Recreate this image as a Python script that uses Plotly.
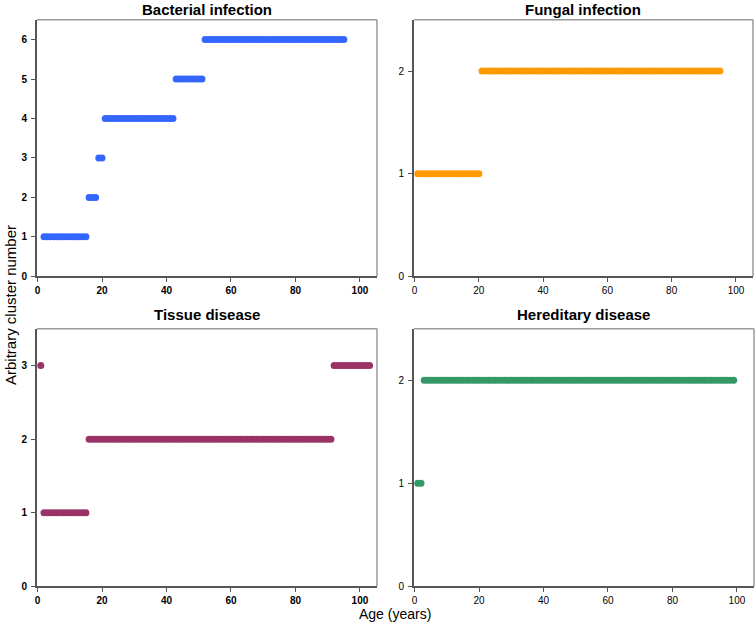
import plotly.graph_objects as go

# ---- data: segments of consecutive ages (years) sharing one cluster number ----
bact_start = [2, 16, 19, 21, 43, 52]
bact_end = [15, 18, 20, 42, 51, 95]
bact_cluster = [1, 2, 3, 4, 5, 6]

fung_start = [1, 21]
fung_end = [20, 95]
fung_cluster = [1, 2]

tiss_start = [1, 2, 16, 92]
tiss_end = [1, 15, 91, 103]
tiss_cluster = [3, 1, 2, 3]

hered_start = [1, 3]
hered_end = [2, 99]
hered_cluster = [1, 2]

titles = ["Bacterial infection", "Fungal infection", "Tissue disease", "Hereditary disease"]
x_ticks = [0, 20, 40, 60, 80, 100]


def expand(starts, ends, clusters):
    xs, ys = [], []
    for s, e, c in zip(starts, ends, clusters):
        for a in range(s, e + 1):
            xs.append(a)
            ys.append(c)
    return xs, ys


W, H = 756, 629
panels = [
    dict(data=expand(bact_start, bact_end, bact_cluster), color="#3366FF",
         px=(35, 376), py=(20, 279), ymax=6.5, yt=[0, 1, 2, 3, 4, 5, 6], bold=True, ty=0),
    dict(data=expand(fung_start, fung_end, fung_cluster), color="#FF9900",
         px=(413, 753), py=(20, 279), ymax=2.5, yt=[0, 1, 2], bold=False, ty=0),
    dict(data=expand(tiss_start, tiss_end, tiss_cluster), color="#993366",
         px=(35, 376), py=(332, 592), ymax=3.5, yt=[0, 1, 2, 3], bold=True, ty=308),
    dict(data=expand(hered_start, hered_end, hered_cluster), color="#339966",
         px=(413, 754), py=(332, 592), ymax=2.5, yt=[0, 1, 2], bold=False, ty=308),
]

fig = go.Figure()
layout = dict(
    width=W, height=H, margin=dict(l=0, r=0, t=0, b=0),
    paper_bgcolor="white", plot_bgcolor="white", showlegend=False,
    font=dict(family="Arial, Liberation Sans, sans-serif", color="#000"),
)
annotations = []
shapes = []
for i, p in enumerate(panels):
    n = "" if i == 0 else str(i + 1)
    xs, ys = p["data"]
    fig.add_trace(go.Scatter(
        x=xs, y=ys, mode="markers", xaxis="x" + n, yaxis="y" + n,
        marker=dict(size=7, color=p["color"], line=dict(width=0)),
        cliponaxis=False,
    ))
    tf = dict(size=10, color="#000", family="Arial, Liberation Sans, sans-serif",
              weight="bold" if p["bold"] else "normal")
    layout["xaxis" + n] = dict(
        domain=[p["px"][0] / W, p["px"][1] / W], anchor="y" + n,
        range=[-0.2, 105.3], tickvals=x_ticks, showgrid=False, zeroline=False,
        showline=True, linecolor="#555", linewidth=1.5,
        ticks="outside", ticklen=4, tickcolor="#555", tickwidth=1, tickfont=tf,
    )
    layout["yaxis" + n] = dict(
        domain=[1 - p["py"][1] / H, 1 - p["py"][0] / H], anchor="x" + n,
        range=[0, p["ymax"]], tickvals=p["yt"], showgrid=False, zeroline=False,
        showline=True, linecolor="#555", linewidth=1.5, ticklabelstandoff=2,
        ticks="outside", ticklen=4, tickcolor="#555", tickwidth=1, tickfont=tf,
    )
    # top and right frame lines (lighter)
    shapes.append(dict(type="line", xref="x" + n + " domain", yref="y" + n + " domain",
                       x0=0, x1=1, y0=1, y1=1, line=dict(color="#9a9a9a", width=1.5)))
    shapes.append(dict(type="line", xref="x" + n + " domain", yref="y" + n + " domain",
                       x0=1, x1=1, y0=0, y1=1, line=dict(color="#9a9a9a", width=1.5)))
    annotations.append(dict(
        text="<b>" + titles[i] + "</b>", xref="paper", yref="paper",
        x=(p["px"][0] + p["px"][1]) / 2 / W, y=1 - p["ty"] / H,
        xanchor="center", yanchor="top", showarrow=False, borderpad=0,
        font=dict(size=15, color="#000"),
    ))

annotations.append(dict(
    text="Arbitrary cluster number", xref="paper", yref="paper",
    x=8 / W, y=1 - 308 / H, textangle=-90, xanchor="center", yanchor="middle",
    showarrow=False, borderpad=0, font=dict(size=15, color="#000"),
))
annotations.append(dict(
    text="Age (years)", xref="paper", yref="paper",
    x=394 / W, y=0, xanchor="center", yanchor="bottom",
    showarrow=False, borderpad=0, font=dict(size=14, color="#000"),
))
layout["annotations"] = annotations
layout["shapes"] = shapes
fig.update_layout(**layout)
fig.write_html(
    "out.html",
    config={"displayModeBar": False},
    post_script="document.body.style.margin='0';document.body.style.overflow='hidden';",
)
